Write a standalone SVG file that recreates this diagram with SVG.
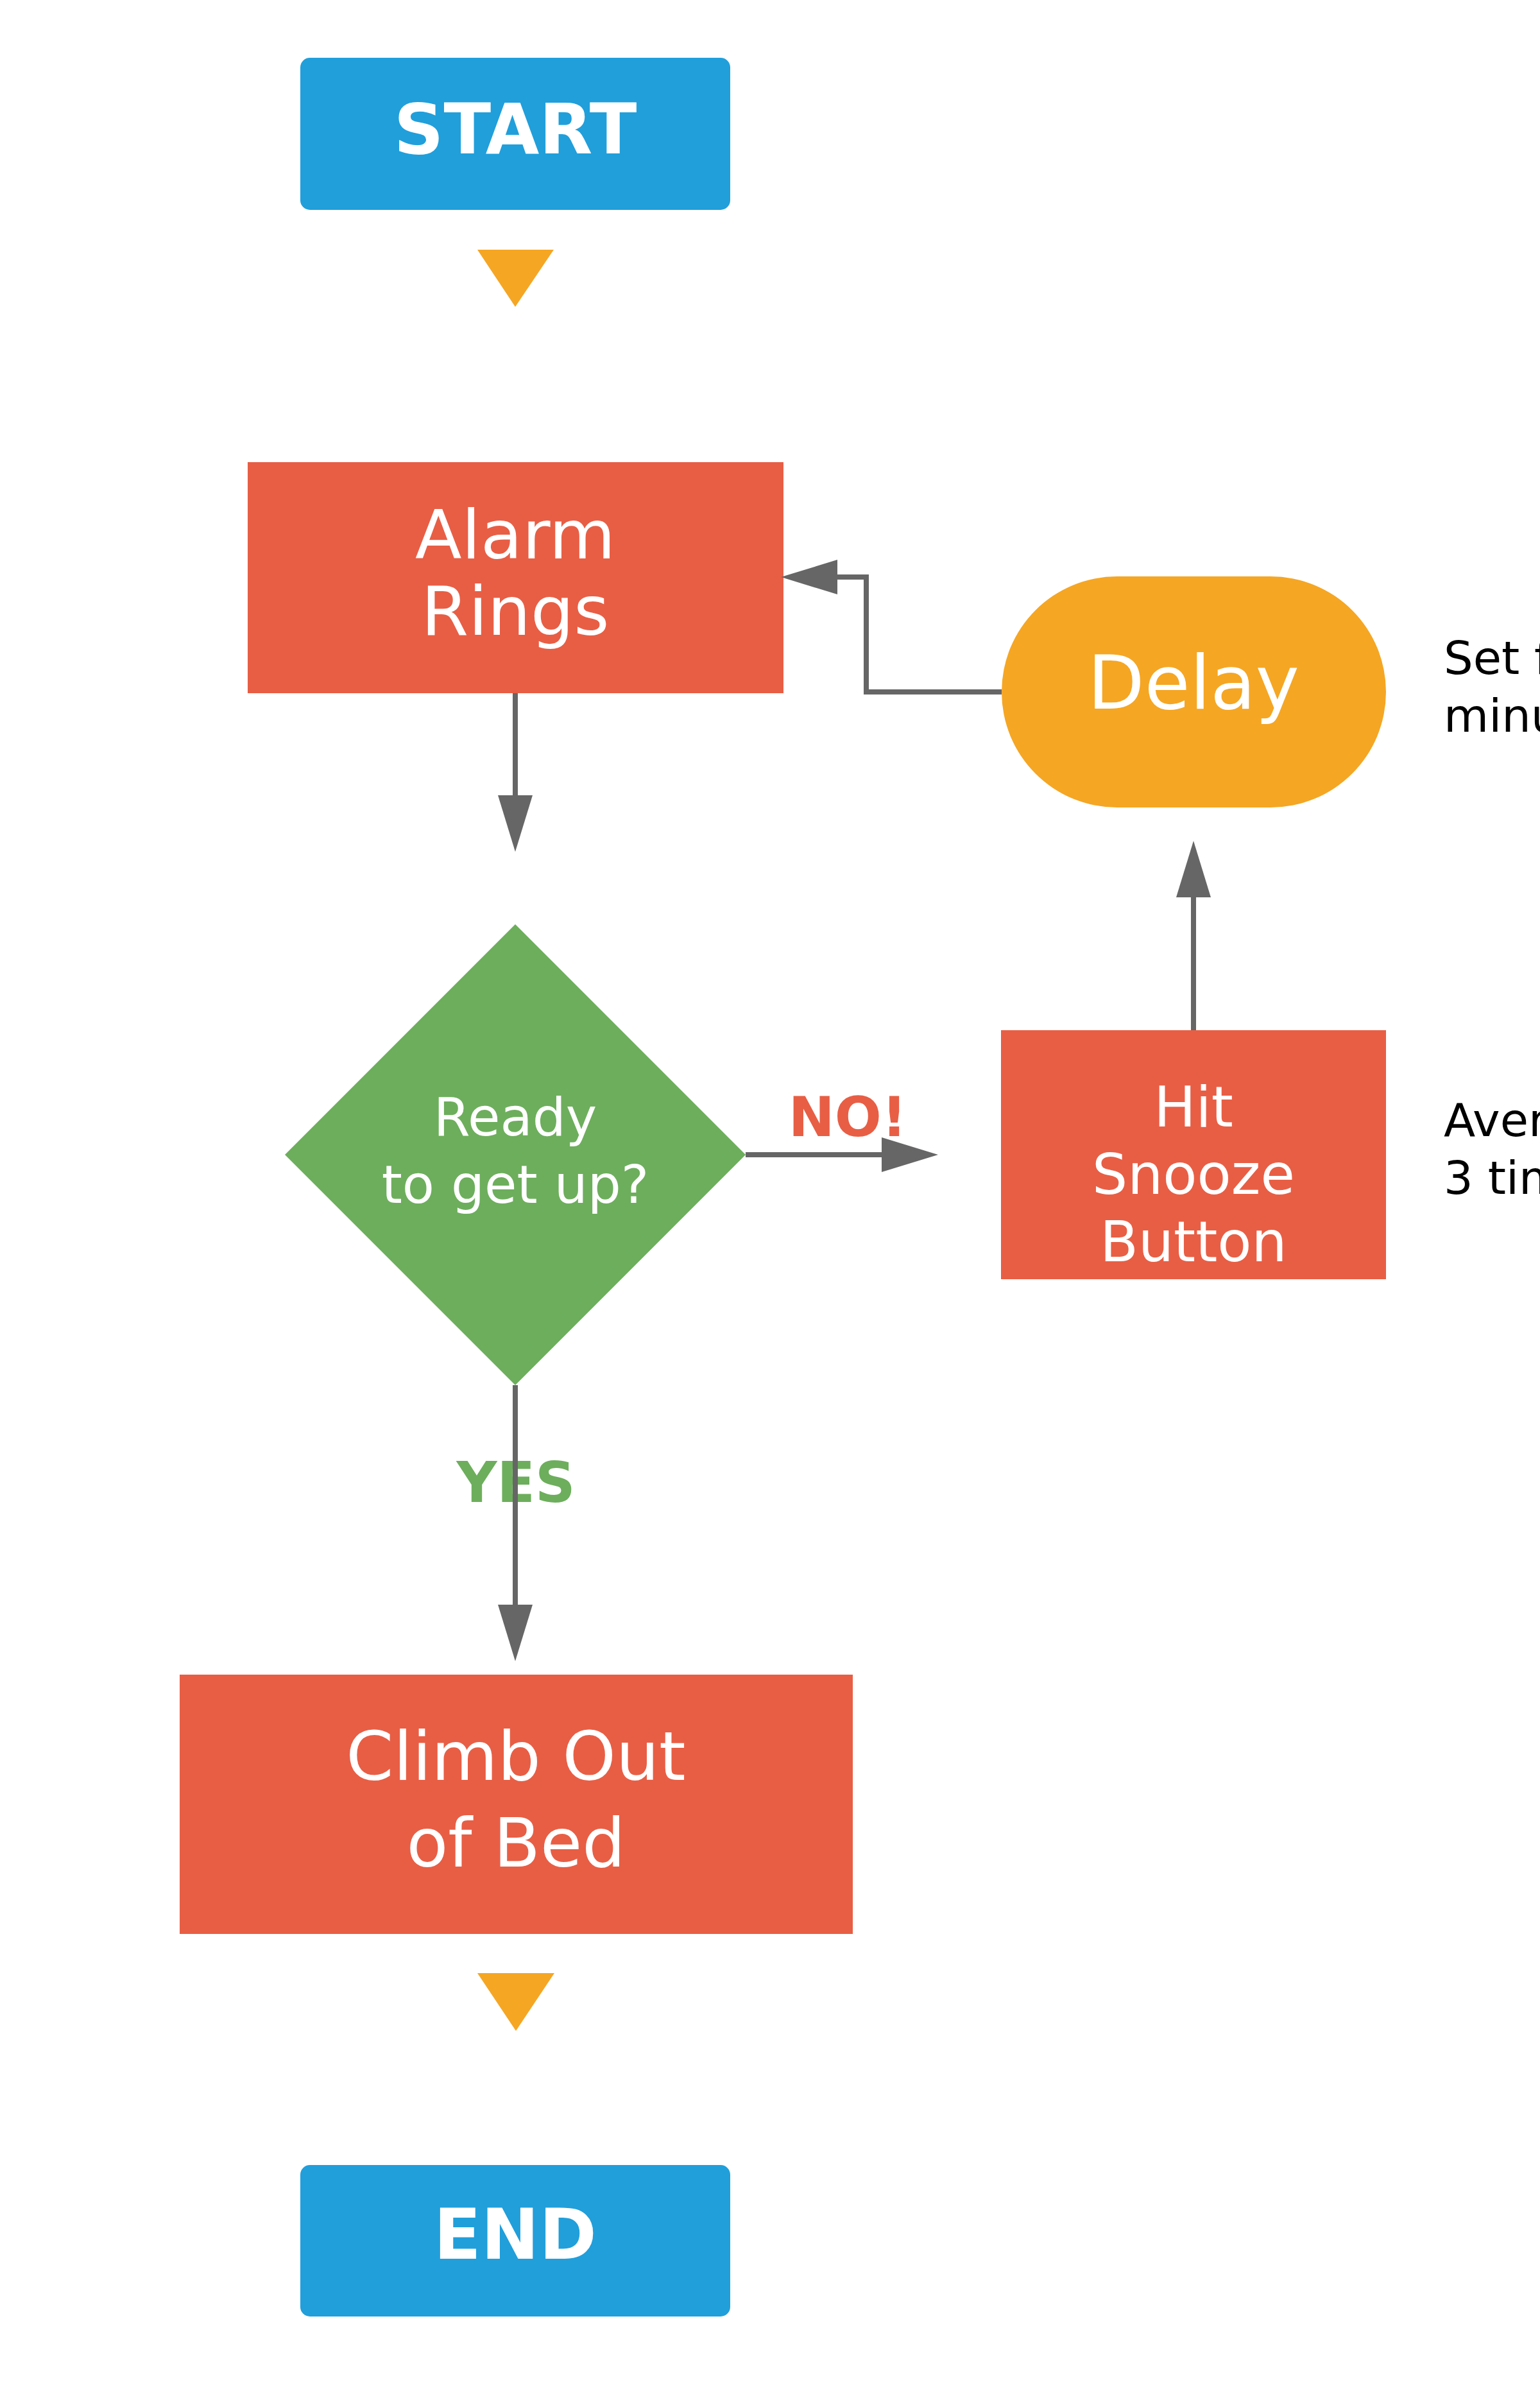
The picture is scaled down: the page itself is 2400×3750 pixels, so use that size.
<svg xmlns="http://www.w3.org/2000/svg" width="2400" height="3750" viewBox="0 0 2400 3750">
<style>
text{font-family:"DejaVu Sans","Liberation Sans",sans-serif;text-anchor:middle}
.blue{fill:#209FDB}
.red{fill:#E85E45}
.orange{fill:#F5A623}
.green{fill:#6DAE5C}
.w{fill:#FFFFFF}
.term{font-weight:bold;font-size:108px}
.proc{font-size:106px}
.note{font-size:72px;fill:#000;text-anchor:start}
.conn{fill:none;stroke:#666666;stroke-width:8}
</style>
<defs>
<marker id="ah" markerUnits="userSpaceOnUse" markerWidth="90" markerHeight="56" refX="0" refY="27" orient="auto" viewBox="0 0 90 56">
<path d="M0,0 L88,27 L0,54 z" fill="#666666"/>
</marker>
</defs>
<rect width="2400" height="3750" fill="#FFFFFF"/>

<g id="start">
<rect class="blue" x="468" y="90" width="670" height="237" rx="15"/>
<text class="w term" x="803" y="239">START</text>
</g>
<g id="start-tri">
<polygon class="orange" points="744,389 863,389 803,478"/>
</g>

<g id="alarm">
<rect class="red" x="386" y="720" width="835" height="360"/>
<text class="w proc" x="803" y="870">Alarm</text>
<text class="w proc" x="803" y="989">Rings</text>
</g>

<g id="decision">
<polygon class="green" points="803,1440 1162,1799 803,2158 444,1799"/>
<text class="w" x="803" y="1769" font-size="82">Ready</text>
<text class="w" x="803" y="1874" font-size="82">to get up?</text>
</g>

<g id="snooze">
<rect class="red" x="1560" y="1605" width="600" height="388"/>
<text class="w" x="1860" y="1755" font-size="87">Hit</text>
<text class="w" x="1860" y="1860" font-size="87">Snooze</text>
<text class="w" x="1860" y="1965" font-size="87">Button</text>
</g>

<g id="delay">
<rect class="orange" x="1561" y="898" width="599" height="360" rx="180"/>
<text class="w" x="1860" y="1104" font-size="115">Delay</text>
</g>

<g id="note-delay">
<text class="note" x="2250" y="1050">Set for 9</text>
<text class="note" x="2250" y="1140">minutes</text>
</g>
<g id="note-snooze">
<text class="note" x="2250" y="1770">Average</text>
<text class="note" x="2250" y="1860">3 times</text>
</g>

<g id="climb">
<rect class="red" x="280" y="2609" width="1049" height="404"/>
<text class="w proc" x="804" y="2773">Climb Out</text>
<text class="w proc" x="804" y="2908">of Bed</text>
</g>
<g id="end-tri">
<polygon class="orange" points="744,3074 864,3074 804,3164"/>
</g>

<g id="end">
<rect class="blue" x="468" y="3373" width="670" height="236" rx="15"/>
<text class="w term" x="803" y="3519">END</text>
</g>

<g id="labels">
<text x="1321" y="1770" font-size="86" font-weight="bold" fill="#E85E45">NO!</text>
<text x="804" y="2340" font-size="87" font-weight="bold" fill="#6DAE5C">YES</text>
</g>

<g id="connectors">
<line class="conn" x1="803" y1="1080" x2="803" y2="1239" marker-end="url(#ah)"/>
<line class="conn" x1="1162" y1="1799" x2="1374" y2="1799" marker-end="url(#ah)"/>
<line class="conn" x1="803" y1="2158" x2="803" y2="2500" marker-end="url(#ah)"/>
<line class="conn" x1="1860" y1="1605" x2="1860" y2="1398" marker-end="url(#ah)"/>
<polyline class="conn" points="1561,1078 1350,1078 1350,899 1305,899" marker-end="url(#ah)"/>
</g>
</svg>
